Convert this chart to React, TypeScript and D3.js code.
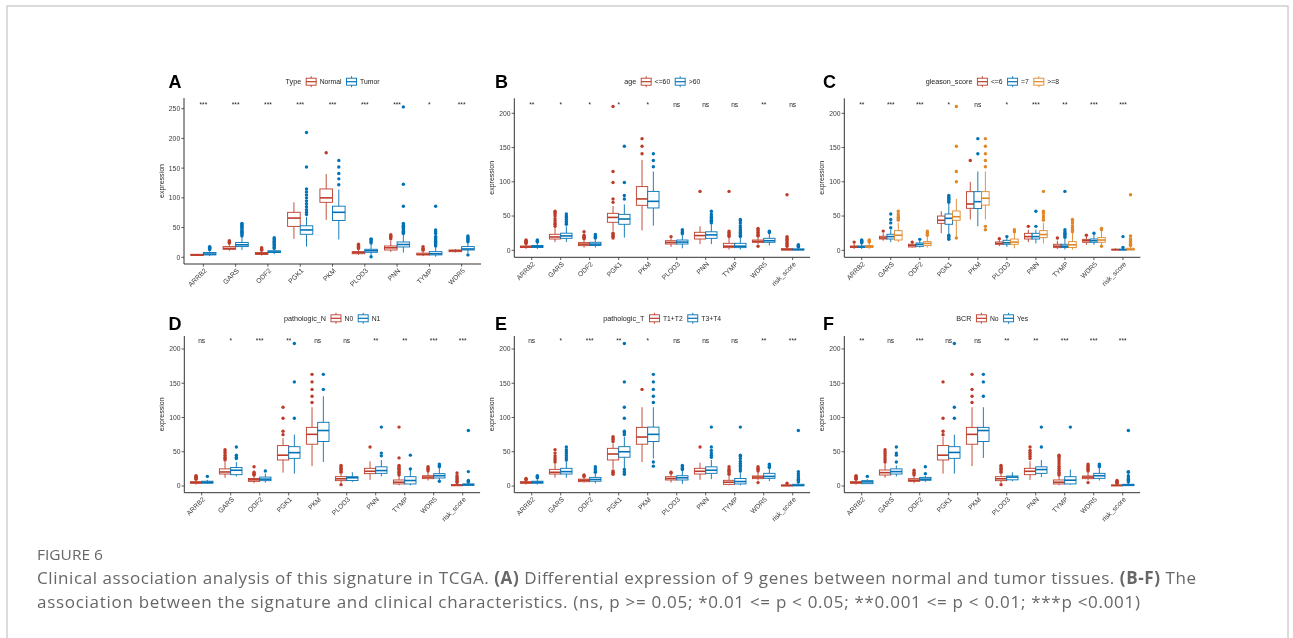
import React from 'react';
import * as d3 from 'd3';

const RED = '#BC3C29';
const BLUE = '#0072B5';
const ORANGE = '#E18727';

const genes9 = ['ARRB2', 'GARS', 'ODF2', 'PGK1', 'PKM', 'PLOD3', 'PNN', 'TYMP', 'WDR5'];
const genes10 = [...genes9, 'risk_score'];

const yTicksA = [0, 50, 100, 150, 200, 250];
const yTicksBF = [0, 50, 100, 150, 200];

// stats: [whiskerLow, q1, median, q3, whiskerHigh]
const A_normal = [[2,3,4,5,6],[11,13.5,15,18,22],[3,5,6,8,10],[31,52,66,75.7,92.5],[63,92.5,100,115,140],[4,6,8,9.5,13],[9,12.3,16,19,28],[2,4,5,7,10],[8,9.5,11,12.3,14]];
const A_normal_out = [[],[24,25,26,28],[12,13,14,16],[],[176],[15,17,18,20,22],[31,33,35,36,38],[12,14,15,18],[]];
const A_tumor = [[2,4,5.5,8,12],[12,18,21,25,35],[5,8,9,11,14],[18,38.7,46,53,68],[30,62,75.7,86,114],[3,8.4,11,13.5,22],[8,17.4,21.5,25.8,38],[1,4,6,9.5,17],[7,12.3,14,18,25]];
const A_tumor_out = [[13,14,15,16,17,18],[36,38,40,42,44,46,48,50,52,54,56,57],[15,17,19,21,23,25,27,29,31,33],[72,76,80,85,90,95,100,105,110,115,152,210],[122,132,141,152,163],[1,24,26,28,30,31],[40,42,44,46,48,50,52,54,57,86,123,253],[19,21,23,25,27,29,31,33,35,40,43,46,86],[4,26,28,30,32,34,36]];
const A_sig = ['***','***','***','***','***','***','***','*','***'];

const B_le60 = [[2,4,5,6.3,9],[12,16.5,19.5,23.4,33],[4,6.8,9,11.2,15],[28,40.9,48,54,64.7],[29,65.7,75,93,132],[5,9.2,11.5,14,19],[9,16.5,21.5,26.3,35],[1,3.9,6,10.2,18],[9,11.7,13,15,20],[0,0.5,1,2.4,5]];
const B_le60_out = [[10,11,12,13,14,15],[35,38,40,43,46,50,53,55,57],[17,18,19,20,22,27],[18,20,21,23,25,70,75,99,115,210],[141,152,163],[20],[86],[20,22,24,26,28,86],[6,21,22,24,26,28,30,32],[6,8,10,12,14,16,18,20,81]];
const B_gt60 = [[2,4,5.5,7,10],[12,17.5,21,25,35],[4,7,9,11.7,16],[18.5,38,45.7,52.5,67],[36,61.8,71.5,86,115],[3,9.2,12,15,22],[9,17.5,22.5,27,38],[1,3.9,6,10.2,18],[7,11.7,14,17.5,25],[0,0.5,1,2,4]];
const B_gt60_out = [[12,13,14,15],[38,40,42,45,48,50,53],[18,19,21,23],[75,80,99,152],[122,131,141],[24,26,28,30],[40,42,44,46,48,50,53,57],[20,22,24,26,28,30,33,36,40,43,45],[26,27,28],[5,6,7,8]];
const B_sig = ['**','*','*','*','*','ns','ns','ns','**','ns'];

const C_le6 = [[2,4,5,6.3,10],[14,16.5,18,20.4,25],[4,4.9,7,8.8,11],[25,39.4,43.8,50,57],[45,61.3,67.6,85.6,100],[6,8.8,10,12.2,15],[12,16.5,20,24.8,30],[2,3.9,6,8.8,14],[8,11.7,14,16,20],[0,0.5,1,1.5,3]];
const C_le6_out = [[12],[28],[12],[],[131],[17],[35],[18],[22],[]];
const C_eq7 = [[2,4,5,6.3,10],[12,16.5,20,23.4,30],[4,5.8,8.5,10.7,14],[24,38,46.7,53,68],[35,61,71,85.6,115],[5,8.8,11,14.6,19],[10,16.5,20,24.8,30],[1,4,6,8.8,17],[8,11.7,14,16.5,23],[0,0.5,1,1.5,3]];
const C_eq7_out = [[11,12,13,14,15],[33,40,45,53],[16],[16,18,20,22,70,72,74,76,78,80],[141,163],[20],[35,57],[19,21,23,25,27,30,86],[25],[4,20]];
const C_ge8 = [[2,4,5.5,7,11],[12,15,22,28.7,40],[4,6.8,10,12.7,20],[20,43.8,49,57.4,75],[45,66,76,85.6,115],[3,8.8,12,16.5,25],[10,18.5,23,28.7,40],[1,4,8,12.7,25],[7,11.7,15,18.5,28],[0,0.5,1.5,3,6]];
const C_ge8_out = [[12,13,14,15],[44,46,48,50,53,57],[22,24,26,28],[18,100,115,152,210],[30,35,122,131,141,152,163],[27,28,30],[44,47,50,54,57,86],[27,29,31,33,36,40,43,45],[6,30,31,32],[7,9,11,13,15,17,21,81]];
const C_sig = ['**','***','***','*','ns','*','***','**','***','***'];

const D_N0 = [[2,4,5,6.3,9],[12,17.5,20.5,25,35],[4,6.8,9,11,15],[19.5,38,45,59,70],[29,61,75.4,85.6,115],[4,7.8,10.5,13.6,18],[9,18,21.5,25.8,36],[1,3,5.5,8.8,15],[8,10.7,13,15,20],[0,0.5,1,2,4]];
const D_N0_out = [[10,11,12,13,14,15],[38,40,42,45,48,50,53],[16,17,18,20,28],[75,80,99,115],[122,131,141,152,163],[2,20,22,24,26,28,30],[57],[16,18,20,22,24,26,28,30,41,86],[22,24,26,28],[5,7,9,11,13,15,19]];
const D_N1 = [[3,4,5.5,7,9],[14,16.5,23,27,35],[5,7.8,10,13,18],[18,40.4,48.7,57.4,75],[35,65,81,93,131],[6,8,12,13.6,20],[14,18.5,22.5,28,38],[1,3,8,13.6,24],[8,11.7,15,18,26],[0,1,2,3,5]];
const D_N1_out = [[14],[40,42,45,57],[22],[99,152,208],[141,163],[],[44,48,86],[25,45],[7,28,30,32],[6,7,8,21,81]];
const D_sig = ['ns','*','***','**','ns','ns','**','**','***','***'];

const E_T12 = [[2,4,5,6.3,8],[12,17.5,20,24.3,33],[5,6.3,8.5,10,13],[25,38,46.7,55,62],[35,61,71.5,85.6,115],[5,8.8,11,13.6,18],[9,17.5,21.5,25.8,34],[1,2.4,5.5,8.3,15],[8,10.7,13,14.6,20],[0,0,0.8,1.5,3]];
const E_T12_out = [[9,10,11],[35,38,41,44,48,53],[14,15,16],[17,19,20,22,65,68,70,72],[141],[19,20],[57],[17,19,21,23,25,28],[5,22,24,26,28],[4]];
const E_T34 = [[2,4,5.5,7,10],[12,17.5,21,25.8,36],[4,7,9.5,12.6,18],[25,42,50,57.4,72],[40,65,75.4,86,115],[3,8.8,12,15,22],[10,18.5,23,28,38],[1,3,6.5,11,20],[7,11.2,14,18.5,25],[0,0.3,1,2.5,5]];
const E_T34_out = [[12,13,14,15],[38,41,44,47,50,53,57],[20,22,25,28],[17,19,21,24,75,78,80,99,115,152,208],[29,35,122,131,141,152,163],[24,26,28,30],[42,45,48,52,57,86],[22,25,28,30,33,36,40,43,45,86],[27,29,31,32],[6,8,10,12,15,18,21,81]];
const E_sig = ['ns','*','***','**','*','ns','ns','ns','**','***'];

const F_No = [[2,4,5,6.3,9],[12,16,19.5,23.4,33],[4,6.8,8.5,10.7,14],[18,38,45,59,72],[29,61,75.4,85.6,115],[4,7.8,10.5,13.6,18],[9,16.5,21.5,25.8,36],[1,3,5.5,8.8,15],[8,10.7,13,14.6,20],[0,0.3,0.8,1.5,3]];
const F_No_out = [[10,11,12,13,14,15],[35,38,41,44,47,50,53],[16,18,20,23],[75,80,99,152],[122,131,141,163],[2,20,22,24,26,28,30],[40,43,46,49,52,57],[16,18,20,23,26,29,32,35,38,41,43,45],[5,22,24,26,28,30,32],[4,5,6,7,8]];
const F_Yes = [[3,3.4,6,7.8,10],[14,17.5,21,25,30],[6,8.3,10,12.6,15],[18,40.4,49,57.4,75],[41,65,81,85.6,115],[7,9,13,14.6,20],[13,18.5,24,28,38],[2,3,8.5,13.6,24],[8,11.2,15,18.5,26],[0,0.5,1.5,2.5,5]];
const F_Yes_out = [[14],[35,45,48,57],[18,28],[99,115,208],[131,152,163],[],[57,86],[86],[28,30,32],[6,8,10,12,15,20,21,81]];
const F_sig = ['**','ns','***','ns','ns','**','**','***','***','***'];

const FONT = "'Liberation Sans', Arial, sans-serif";

let _ctx: CanvasRenderingContext2D | null = null;
function textWidth(t: string, size: number, weight = 'normal', family = FONT) {
  if (!_ctx) _ctx = document.createElement('canvas').getContext('2d');
  if (!_ctx) return t.length * size * 0.55;
  _ctx.font = `${weight} ${size}px ${family}`;
  return _ctx.measureText(t).width;
}

type Group = { name: string; color: string; stats: number[][]; outs: number[][] };
type Layout = { left: number; right: number; top: number; axisY: number; zeroY: number; refVal: number; refY: number; letterX: number; letterY: number; legendY: number; sigY: number; ylabX: number };
type Panel = { letter: string; cats: string[]; groups: Group[]; sig: string[]; legendTitle: string; ticks: number[]; L: Layout };

const panels: Panel[] = [
  { letter: 'A', cats: genes9, sig: A_sig, legendTitle: 'Type', ticks: yTicksA,
    groups: [
      { name: 'Normal', color: RED, stats: A_normal, outs: A_normal_out },
      { name: 'Tumor', color: BLUE, stats: A_tumor, outs: A_tumor_out },
    ],
    L: { left: 184, right: 481, top: 98, axisY: 264, zeroY: 257.3, refVal: 250, refY: 108.7, letterX: 168.5, letterY: 87.8, legendY: 81.7, sigY: 106.5, ylabX: 163.5 } },
  { letter: 'B', cats: genes10, sig: B_sig, legendTitle: 'age', ticks: yTicksBF,
    groups: [
      { name: '<=60', color: RED, stats: B_le60, outs: B_le60_out },
      { name: '>60', color: BLUE, stats: B_gt60, outs: B_gt60_out },
    ],
    L: { left: 514.3, right: 810.1, top: 98.3, axisY: 257.3, zeroY: 250.3, refVal: 200, refY: 113.3, letterX: 495, letterY: 87.8, legendY: 81.7, sigY: 106.5, ylabX: 493.5 } },
  { letter: 'C', cats: genes10, sig: C_sig, legendTitle: 'gleason_score', ticks: yTicksBF,
    groups: [
      { name: '<=6', color: RED, stats: C_le6, outs: C_le6_out },
      { name: '=7', color: BLUE, stats: C_eq7, outs: C_eq7_out },
      { name: '>=8', color: ORANGE, stats: C_ge8, outs: C_ge8_out },
    ],
    L: { left: 844.3, right: 1140.4, top: 98.3, axisY: 257.3, zeroY: 250.3, refVal: 200, refY: 113.3, letterX: 823, letterY: 87.8, legendY: 81.7, sigY: 106.5, ylabX: 823.5 } },
  { letter: 'D', cats: genes10, sig: D_sig, legendTitle: 'pathologic_N', ticks: yTicksBF,
    groups: [
      { name: 'N0', color: RED, stats: D_N0, outs: D_N0_out },
      { name: 'N1', color: BLUE, stats: D_N1, outs: D_N1_out },
    ],
    L: { left: 184.3, right: 480.1, top: 336, axisY: 492.7, zeroY: 486, refVal: 200, refY: 349, letterX: 168.5, letterY: 329.5, legendY: 318.3, sigY: 343, ylabX: 163.5 } },
  { letter: 'E', cats: genes10, sig: E_sig, legendTitle: 'pathologic_T', ticks: yTicksBF,
    groups: [
      { name: 'T1+T2', color: RED, stats: E_T12, outs: E_T12_out },
      { name: 'T3+T4', color: BLUE, stats: E_T34, outs: E_T34_out },
    ],
    L: { left: 514.3, right: 810.1, top: 336, axisY: 492.7, zeroY: 486, refVal: 200, refY: 349, letterX: 495, letterY: 329.5, legendY: 318.3, sigY: 343, ylabX: 493.5 } },
  { letter: 'F', cats: genes10, sig: F_sig, legendTitle: 'BCR', ticks: yTicksBF,
    groups: [
      { name: 'No', color: RED, stats: F_No, outs: F_No_out },
      { name: 'Yes', color: BLUE, stats: F_Yes, outs: F_Yes_out },
    ],
    L: { left: 844.3, right: 1140.1, top: 336, axisY: 492.7, zeroY: 486, refVal: 200, refY: 349, letterX: 823, letterY: 329.5, legendY: 318.3, sigY: 343, ylabX: 823.5 } },
];

const AX = '#333333';
const TXT = '#3a3a3a';

function BoxPanel({ p }: { p: Panel }) {
  const L = p.L;
  const x = d3.scalePoint<string>().domain(p.cats).range([L.left, L.right]).padding(0.6);
  const y = d3.scaleLinear().domain([0, L.refVal]).range([L.zeroY, L.refY]);
  const step = x.step();
  const G = p.groups.length;
  const bw = (step * 0.78) / G;

  const titleSize = 7.2, labSize = 6.8;
  const titleW = textWidth(p.legendTitle, titleSize);
  let cur = titleW + 5;
  const items = p.groups.map((g) => {
    const kx = cur;
    cur += 10 + 3.5;
    const lx = cur;
    cur += textWidth(g.name, labSize) + 5;
    return { g, kx, lx };
  });
  const total = cur - 5;
  const lx0 = (L.left + L.right) / 2 - total / 2;
  const ly = L.legendY;

  return (
    <g>
      <text x={L.letterX} y={L.letterY} fontFamily={FONT} fontWeight="bold" fontSize={18} fill="#000">{p.letter}</text>
      <g transform={`translate(${lx0},0)`}>
        <text x={0} y={ly} dy="0.35em" fontFamily={FONT} fontSize={titleSize} fill="#222">{p.legendTitle}</text>
        {items.map(({ g, kx, lx }) => (
          <g key={g.name}>
            <line x1={kx + 5} x2={kx + 5} y1={ly - 5.5} y2={ly + 5.5} stroke={g.color} strokeWidth={0.9} />
            <rect x={kx} y={ly - 3.5} width={10} height={7} fill="#fff" stroke={g.color} strokeWidth={0.9} />
            <line x1={kx} x2={kx + 10} y1={ly} y2={ly} stroke={g.color} strokeWidth={1.2} />
            <text x={lx} y={ly} dy="0.35em" fontFamily={FONT} fontSize={labSize} fill="#222">{g.name}</text>
          </g>
        ))}
      </g>
      <line x1={L.left} x2={L.left} y1={L.top} y2={L.axisY} stroke={AX} strokeWidth={1} />
      <line x1={L.left} x2={L.right} y1={L.axisY} y2={L.axisY} stroke={AX} strokeWidth={1} />
      {p.ticks.map((t) => (
        <g key={t}>
          <line x1={L.left - 2.7} x2={L.left} y1={y(t)} y2={y(t)} stroke={AX} strokeWidth={0.8} />
          <text x={L.left - 3.8} y={y(t)} dy="0.35em" textAnchor="end" fontFamily={FONT} fontSize={6.8} fill={TXT}>{t}</text>
        </g>
      ))}
      <text transform={`translate(${L.ylabX},${(L.top + L.axisY) / 2}) rotate(-90)`} textAnchor="middle" fontFamily={FONT} fontSize={7} fill="#222">expression</text>
      {p.cats.map((c) => (
        <g key={c}>
          <line x1={x(c)} x2={x(c)} y1={L.axisY} y2={L.axisY + 2.7} stroke={AX} strokeWidth={0.8} />
          <text transform={`translate(${(x(c) as number) + 2},${L.axisY + 5.5}) rotate(-45)`} textAnchor="end" dy="0.35em" fontFamily={FONT} fontSize={6.8} fill={TXT}>{c}</text>
        </g>
      ))}
      {p.sig.map((s, i) => (
        <text key={i} x={x(p.cats[i])} y={L.sigY} textAnchor="middle" fontFamily={FONT} fontSize={6.6} fill="#222">{s}</text>
      ))}
      {p.cats.map((c, i) => (
        <g key={c}>
          {p.groups.map((g, gi) => {
            const s = g.stats[i];
            const cx = (x(c) as number) + (gi - (G - 1) / 2) * bw;
            const x0 = cx - bw / 2;
            return (
              <g key={g.name}>
                <line x1={cx} x2={cx} y1={y(s[0])} y2={y(s[1])} stroke={g.color} strokeWidth={0.9} />
                <line x1={cx} x2={cx} y1={y(s[3])} y2={y(s[4])} stroke={g.color} strokeWidth={0.9} />
                <rect x={x0} y={y(s[3])} width={bw} height={Math.max(0.5, y(s[1]) - y(s[3]))} fill="#fff" stroke={g.color} strokeWidth={0.9} />
                <line x1={x0} x2={x0 + bw} y1={y(s[2])} y2={y(s[2])} stroke={g.color} strokeWidth={1.6} />
                {g.outs[i].map((o, k) => (
                  <circle key={k} cx={cx} cy={y(o)} r={1.7} fill={g.color} />
                ))}
              </g>
            );
          })}
        </g>
      ))}
    </g>
  );
}

const CAP = "'Open Sans', 'Noto Sans', sans-serif";
const CAPCOL = '#676767';

export default function App() {
  return (
    <svg width={1293} height={638} style={{ position: 'absolute', left: 0, top: 0, background: '#fff', filter: 'contrast(1)', willChange: 'transform' }}>
      <rect x={0} y={0} width={1293} height={638} fill="#fff" />
      <rect x={7} y={6} width={1281} height={660} fill="none" stroke="#cfcfcf" strokeWidth={1.5} />
      {panels.map((p) => (
        <BoxPanel key={p.letter} p={p} />
      ))}
      <text x={37} y={560} fontFamily={CAP} fontSize={14} fill={CAPCOL} textLength={66} lengthAdjust="spacingAndGlyphs">FIGURE 6</text>
      <text x={37} y={584} fontFamily={CAP} fontSize={17} fill={CAPCOL} textLength={1159} lengthAdjust="spacing">
        Clinical association analysis of this signature in TCGA. <tspan fontWeight="bold">(A)</tspan> Differential expression of 9 genes between normal and tumor tissues. <tspan fontWeight="bold">(B-F)</tspan> The
      </text>
      <text x={37} y={607.5} fontFamily={CAP} fontSize={17} fill={CAPCOL} textLength={1103} lengthAdjust="spacing">
        association between the signature and clinical characteristics. (ns, p &gt;= 0.05; *0.01 &lt;= p &lt; 0.05; **0.001 &lt;= p &lt; 0.01; ***p &lt;0.001)
      </text>
    </svg>
  );
}
